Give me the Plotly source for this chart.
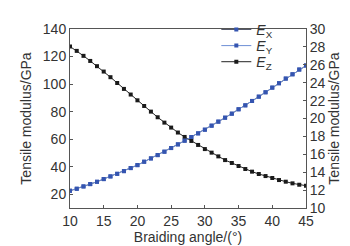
import plotly.graph_objects as go

angle = list(range(10, 46))
ez = [127.3, 124.1, 120.5, 116.8, 113.0, 109.1, 105.0, 100.8, 96.5, 92.4,
      88.2, 84.1, 80.0, 75.9, 72.0, 68.4, 64.8, 61.6, 58.7, 55.8,
      52.8, 50.2, 47.5, 44.8, 42.7, 40.5, 38.3, 36.4, 34.7, 33.2,
      31.8, 30.3, 29.1, 27.9, 26.9, 26.2]
ex = [11.92, 12.15, 12.41, 12.67, 12.93, 13.23, 13.53, 13.82, 14.12, 14.46,
      14.79, 15.17, 15.54, 15.91, 16.29, 16.70, 17.11, 17.52, 17.93, 18.34,
      18.75, 19.20, 19.65, 20.09, 20.54, 21.03, 21.47, 21.96, 22.44, 22.93,
      23.45, 23.94, 24.46, 24.94, 25.47, 25.91]
ey = list(ex)

x_ticks = [10, 15, 20, 25, 30, 35, 40, 45]
y_ticks = [20, 40, 60, 80, 100, 120, 140]
y2_ticks = [10, 12, 14, 16, 18, 20, 22, 24, 26, 28, 30]

tick_font = dict(family="Liberation Sans, Arial, sans-serif", size=14, color="#333333")
title_font = dict(family="Liberation Sans, Arial, sans-serif", size=14, color="#333333")

fig = go.Figure()
fig.add_trace(go.Scatter(x=angle, y=ex, yaxis="y2", mode="lines+markers",
                         name="<i>E</i><sub>X</sub>", legend="legend",
                         line=dict(color="#555a6a", width=1),
                         marker=dict(symbol="square", size=4, color="#3555b0")))
fig.add_trace(go.Scatter(x=angle, y=ey, yaxis="y2", mode="lines+markers",
                         name="<i>E</i><sub>Y</sub>", legend="legend2",
                         line=dict(color="#6e8fd6", width=1),
                         marker=dict(symbol="square", size=4, color="#3555b0")))
fig.add_trace(go.Scatter(x=angle, y=ez, yaxis="y", mode="lines+markers",
                         name="<i>E</i><sub>Z</sub>", legend="legend3",
                         line=dict(color="#222222", width=1),
                         marker=dict(symbol="square", size=4, color="#1a1a1a")))

axis_common = dict(showline=True, linecolor="#555555", linewidth=1,
                   ticks="inside", ticklen=3, tickcolor="#555555",
                   showgrid=False, zeroline=False, tickfont=tick_font,
                   automargin=False)

leg_common = dict(x=0.62, xanchor="left", yanchor="middle",
                  bgcolor="rgba(0,0,0,0)", font=dict(size=14, color="#333333"),
                  itemwidth=30)

fig.update_layout(
    template="none",
    width=350, height=246,
    margin=dict(l=62, r=52, t=21, b=46, pad=0, autoexpand=False),
    paper_bgcolor="white", plot_bgcolor="white",
    font=tick_font,
    showlegend=True,
    legend=dict(y=0.995, **leg_common),
    legend2=dict(y=0.905, **leg_common),
    legend3=dict(y=0.815, **leg_common),
    xaxis=dict(range=[10, 45], tickvals=x_ticks, mirror=True,
               title=dict(text="Braiding angle/(°)", font=title_font, standoff=2),
               **axis_common),
    yaxis=dict(range=[10, 140], tickvals=y_ticks,
               title=dict(text="Tensile modulus/GPa", font=title_font, standoff=7),
               **axis_common),
    yaxis2=dict(range=[10, 30], tickvals=y2_ticks, overlaying="y", side="right",
                title=dict(text="Tensile modulus/GPa", font=title_font, standoff=0),
                **axis_common),
)

fig.write_html("out.html")
